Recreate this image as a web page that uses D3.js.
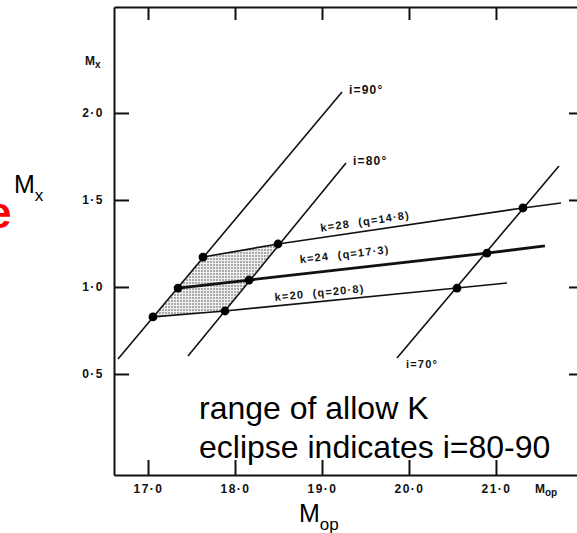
<!DOCTYPE html>
<html>
<head>
<meta charset="utf-8">
<script src="https://cdn.jsdelivr.net/npm/d3@7"></script>
<style>
    body { margin: 0; background: #fff; }
    svg { display: block; }
</style>
</head>
<body>
<svg id="chart" width="577" height="533"></svg>
<script>
// values (M_op horizontal, M_x vertical)
var mopTicks = [17, 18, 19, 20, 21];
var mopTickText = ["17·0", "18·0", "19·0", "20·0", "21·0"];
var mxTicks = [0.5, 1.0, 1.5, 2.0];
var mxTickText = ["0·5", "1·0", "1·5", "2·0"];

var iLabels = ["i=90°", "i=80°", "i=70°"];
var iLines = [
    [[16.655, 0.586], [19.23, 2.12]],
    [[17.46, 0.603], [19.276, 1.713]],
    [[19.862, 0.592], [21.724, 1.695]]
];

var kLabels = ["k=28  (q=14·8)", "k=24  (q=17·3)", "k=20  (q=20·8)"];
var kLines = [
    [[17.632, 1.172], [18.494, 1.247], [21.31, 1.454], [21.747, 1.483]],
    [[17.345, 0.994], [18.161, 1.040], [20.897, 1.195], [21.563, 1.236]],
    [[17.057, 0.828], [17.885, 0.862], [20.552, 0.994], [21.126, 1.023]]
];

// allowed region between i=90 and i=80, k=20..28
var allowed = [[17.057, 0.828], [17.885, 0.862], [18.494, 1.247], [17.632, 1.172]];

var dots = [
    [17.057, 0.828], [17.345, 0.994], [17.632, 1.172],
    [17.885, 0.862], [18.161, 1.040], [18.494, 1.247],
    [20.552, 0.994], [20.897, 1.195], [21.31, 1.454]
];

var svg = d3.select("#chart");
var scanFont = "'Liberation Sans', Arial, sans-serif";

var x = d3.scaleLinear().domain([16.609, 21.943]).range([114, 578]);
var y = d3.scaleLinear().domain([-0.0805, 2.609]).range([475, 7]);

var defs = svg.append("defs");
var pat = defs.append("pattern")
    .attr("id", "stipple")
    .attr("width", 3).attr("height", 3)
    .attr("patternUnits", "userSpaceOnUse");
pat.append("rect").attr("width", 3).attr("height", 3).attr("fill", "#f0f0f0");
pat.append("circle").attr("cx", 1).attr("cy", 1).attr("r", 0.9).attr("fill", "#8a8a8a");

var styleAxis = function(g) {
    g.select(".domain").attr("stroke", "#111").attr("stroke-width", 2);
    g.selectAll(".tick line").attr("stroke", "#111").attr("stroke-width", 2);
    g.selectAll(".tick text")
        .attr("fill", "#111")
        .attr("font-family", scanFont)
        .attr("font-weight", "bold")
        .attr("font-size", 12)
        .attr("letter-spacing", 1.5);
};

svg.append("g")
    .attr("transform", "translate(0,475)")
    .call(d3.axisBottom(x).tickValues(mopTicks).tickSize(-15).tickSizeOuter(0).tickPadding(9)
        .tickFormat(function(d, i) { return mopTickText[i]; }))
    .call(styleAxis);

svg.append("g")
    .attr("transform", "translate(0,7)")
    .call(d3.axisTop(x).tickValues(mopTicks).tickSize(-13).tickSizeOuter(0).tickFormat(""))
    .call(styleAxis);

svg.append("g")
    .attr("transform", "translate(114,0)")
    .call(d3.axisLeft(y).tickValues(mxTicks).tickSize(-15).tickSizeOuter(0).tickPadding(10)
        .tickFormat(function(d, i) { return mxTickText[i]; }))
    .call(styleAxis);

svg.append("g")
    .attr("transform", "translate(578,0)")
    .call(d3.axisRight(y).tickValues(mxTicks).tickSize(-9).tickSizeOuter(0).tickFormat(""))
    .call(styleAxis);

// axis names in the scan
var axName = function(px, py, main, sub) {
    var t = svg.append("text")
        .attr("x", px).attr("y", py)
        .attr("font-family", scanFont)
        .attr("font-weight", "bold")
        .attr("font-size", 12)
        .attr("fill", "#111");
    t.append("tspan").text(main);
    t.append("tspan").attr("dy", 3).attr("font-size", 10).text(sub);
};
axName(85, 65, "M", "x");
axName(535, 493, "M", "op");

var line = d3.line().x(function(d) { return x(d[0]); }).y(function(d) { return y(d[1]); });

svg.append("path")
    .attr("d", line(allowed) + "Z")
    .attr("fill", "url(#stipple)")
    .attr("stroke", "none");

svg.selectAll("path.iline")
    .data(iLines)
    .enter().append("path")
    .attr("class", "iline")
    .attr("d", line)
    .attr("fill", "none")
    .attr("stroke", "#111")
    .attr("stroke-width", 1.6);

svg.selectAll("path.kline")
    .data(kLines)
    .enter().append("path")
    .attr("class", "kline")
    .attr("d", line)
    .attr("fill", "none")
    .attr("stroke", "#111")
    .attr("stroke-width", function(d, i) { return i === 1 ? 2.8 : 1.6; });

svg.selectAll("circle.dot")
    .data(dots)
    .enter().append("circle")
    .attr("class", "dot")
    .attr("cx", function(d) { return x(d[0]); })
    .attr("cy", function(d) { return y(d[1]); })
    .attr("r", 4.4)
    .attr("fill", "#000");

// i labels: first two at the top end of the line, i=70 below the lower end
svg.selectAll("text.ilab")
    .data(iLines)
    .enter().append("text")
    .attr("class", "ilab")
    .attr("x", function(d, i) { return i < 2 ? x(d[1][0]) + 7 : x(d[0][0]) + 9; })
    .attr("y", function(d, i) { return i < 2 ? y(d[1][1]) + 2 : y(d[0][1]) + 10; })
    .attr("font-family", scanFont)
    .attr("font-weight", "bold")
    .attr("font-size", function(d, i) { return i < 2 ? 12 : 11; })
    .attr("letter-spacing", 1.2)
    .attr("fill", "#111")
    .text(function(d, i) { return iLabels[i]; });

// k labels sit just above their line, rotated with it
var kLabelAt = [18.99, 18.75, 18.46];
var kLabelGap = [6, 11, 5];
var pointOn = function(pts, v) {
    for (var j = 1; j < pts.length; j++) {
        if (v <= pts[j][0]) {
            var a = pts[j - 1], b = pts[j];
            var t = (v - a[0]) / (b[0] - a[0]);
            return { y: a[1] + t * (b[1] - a[1]), a: a, b: b };
        }
    }
};
svg.selectAll("text.klab")
    .data(kLines)
    .enter().append("text")
    .attr("class", "klab")
    .attr("transform", function(d, i) {
        var p = pointOn(d, kLabelAt[i]);
        var ang = Math.atan2(y(p.b[1]) - y(p.a[1]), x(p.b[0]) - x(p.a[0])) * 180 / Math.PI;
        return "translate(" + x(kLabelAt[i]) + "," + (y(p.y) - kLabelGap[i]) + ") rotate(" + ang + ")";
    })
    .attr("font-family", scanFont)
    .attr("font-weight", "bold")
    .attr("font-size", 11)
    .attr("letter-spacing", 1.2)
    .attr("fill", "#111")
    .style("white-space", "pre")
    .text(function(d, i) { return kLabels[i]; });

// slide overlay text
var arial = "'Liberation Sans', Arial, sans-serif";
svg.append("text")
    .attr("x", -13).attr("y", 228)
    .attr("font-family", arial)
    .attr("font-weight", "bold")
    .attr("font-size", 44)
    .attr("fill", "#ff0000")
    .text("e");

var big = function(px, py, main, sub) {
    var t = svg.append("text")
        .attr("x", px).attr("y", py)
        .attr("font-family", arial)
        .attr("font-size", 25)
        .attr("fill", "#000");
    t.append("tspan").text(main);
    t.append("tspan").attr("dy", 8).attr("font-size", 17).text(sub);
};
big(14, 193, "M", "x");
big(299, 522, "M", "op");

svg.selectAll("text.note")
    .data(["range of allow K", "eclipse indicates i=80-90"])
    .enter().append("text")
    .attr("class", "note")
    .attr("x", 199)
    .attr("y", function(d, i) { return 419 + i * 39; })
    .attr("font-family", arial)
    .attr("font-size", 32)
    .attr("fill", "#000")
    .text(function(d) { return d; });
</script>
</body>
</html>
